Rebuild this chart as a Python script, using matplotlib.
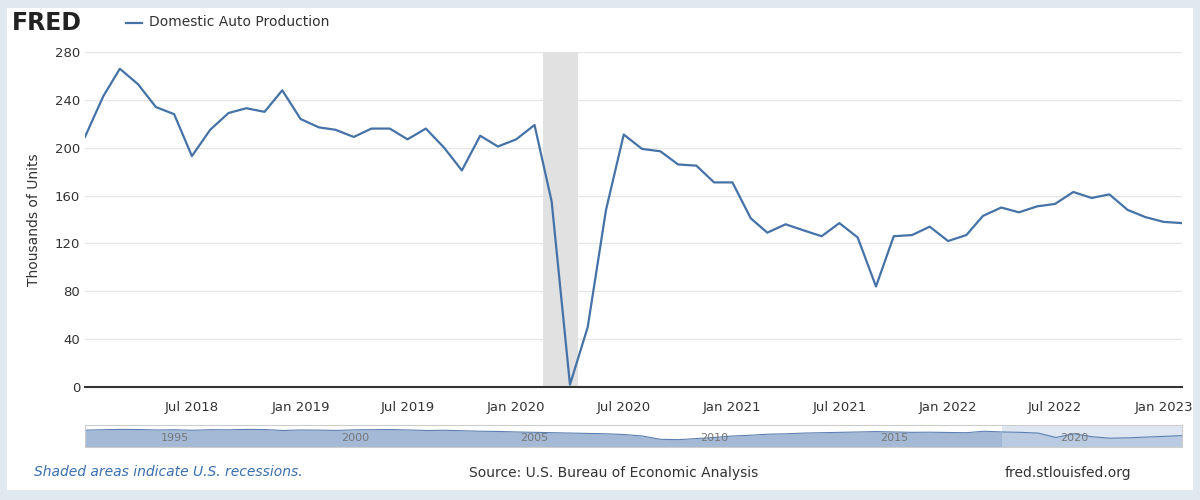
import matplotlib.pyplot as plt
import matplotlib.dates as mdates
import numpy as np
import pandas as pd
from matplotlib.patches import Rectangle

# Domestic auto production, thousands of units, monthly
vals = [209, 243, 266, 253, 234, 228, 193, 215, 229, 233, 230, 248,
        224, 217, 215, 209, 216, 216, 207, 216, 200, 181, 210, 201,
        207, 219, 155, 2, 50, 148, 211, 199, 197, 186, 185, 171,
        171, 141, 129, 136, 131, 126, 137, 125, 84, 126, 127, 134,
        122, 127, 143, 150, 146, 151, 153, 163, 158, 161, 148, 142,
        138, 137]
dates = pd.date_range('2018-01-01', periods=len(vals), freq='MS')

# rough half-yearly values for the navigator strip
nav_years = pd.date_range('1992-07-01', '2023-02-01', freq='6MS')
nav_vals = [230, 235, 240, 238, 232, 235, 228, 236, 234, 240, 238, 225, 232, 230,
            226, 234, 236, 238, 232, 225, 228, 222, 215, 212, 205, 200, 195, 190,
            185, 180, 170, 150, 105, 100, 115, 130, 150, 160, 175, 180, 190, 195,
            200, 205, 210, 205, 200, 202, 198, 195, 215, 205, 200, 190, 130, 180,
            140, 120, 125, 135, 145, 155, 150, 140, 138]
nav_vals = nav_vals[:len(nav_years)]

blue = '#4572a7'
fig = plt.figure(figsize=(12, 5), dpi=100)
fig.patch.set_facecolor('#e1e9f0')
fig.patches.append(Rectangle((0.006, 0.02), 0.988, 0.965, transform=fig.transFigure,
                             facecolor='white', edgecolor='none', zorder=-5))

ax = fig.add_axes([0.0708, 0.226, 0.9142, 0.670])
ax.patch.set_alpha(0)
ax.plot(dates, vals, color=blue, lw=1.6)
ax.axvspan(pd.Timestamp('2020-02-15'), pd.Timestamp('2020-04-15'), color='#e1e1e1', lw=0)
ax.set_xlim(dates[0], dates[-1])
ax.set_ylim(0, 280)
ax.set_yticks(range(0, 281, 40))
ax.grid(axis='y', color='#e6e6e6', lw=1)
ax.set_axisbelow(True)
for s in ['top', 'right', 'left']:
    ax.spines[s].set_visible(False)
ax.spines['bottom'].set_color('#333333')
ax.spines['bottom'].set_linewidth(1.5)
ax.tick_params(axis='y', length=0, labelsize=9.5, colors='#333333')
ax.tick_params(axis='x', length=0, labelsize=9.5, colors='#333333', pad=10)
ax.set_xticks(pd.date_range('2018-07-01', '2023-01-01', freq='6MS'))
ax.xaxis.set_major_formatter(mdates.DateFormatter('%b %Y'))
ax.set_ylabel('Thousands of Units', fontsize=10, color='#333333', labelpad=10)

nav = fig.add_axes([0.0708, 0.106, 0.9142, 0.044])
nav.fill_between(nav_years, nav_vals, color='#a3b9d6', lw=0)
nav.plot(nav_years, nav_vals, color='#5b7fb0', lw=0.8)
nav.axvspan(pd.Timestamp('2018-01-01'), nav_years[-1], color='#c8d6ea', alpha=0.6, lw=0)
nav.set_xlim(nav_years[0], nav_years[-1])
nav.set_ylim(0, 300)
nav.set_xticks([]); nav.set_yticks([])
for s in nav.spines.values():
    s.set_color('#cccccc')
for yr in [1995, 2000, 2005, 2010, 2015, 2020]:
    nav.text(pd.Timestamp(f'{yr}-01-01'), 80, str(yr), fontsize=8, color='#777777', ha='center')

fig.text(0.01, 0.955, 'FRED', fontsize=17, fontweight='bold', color='#222222', va='center')
fig.lines.append(plt.Line2D([0.105, 0.118], [0.955, 0.955], transform=fig.transFigure, color=blue, lw=1.6))
fig.text(0.124, 0.955, 'Domestic Auto Production', fontsize=10, color='#333333', va='center')

fig.text(0.028, 0.055, 'Shaded areas indicate U.S. recessions.', fontsize=10, color='#3a6fb0',
         style='italic', va='center')
fig.text(0.511, 0.055, 'Source: U.S. Bureau of Economic Analysis', fontsize=10, color='#333333',
         ha='center', va='center')
fig.text(0.943, 0.055, 'fred.stlouisfed.org', fontsize=10, color='#333333', ha='right', va='center')

fig.savefig('out.png', facecolor=fig.get_facecolor())
